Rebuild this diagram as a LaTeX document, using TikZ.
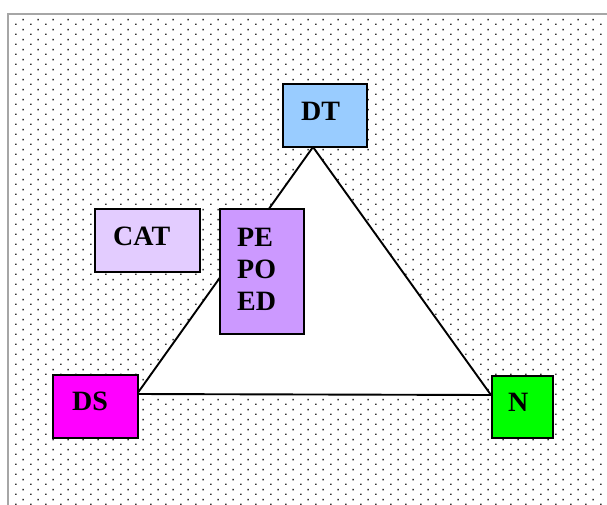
\documentclass[tikz,border=0pt]{standalone}
\usepackage{fontspec}
\setmainfont{Liberation Serif}
\usetikzlibrary{patterns}
\definecolor{dtblue}{HTML}{99CCFF}
\definecolor{catlav}{HTML}{E3CCFF}
\definecolor{pepurple}{HTML}{CC99FF}
\definecolor{dsmag}{HTML}{FF00FF}
\definecolor{ngreen}{HTML}{00FF00}
\pgfdeclarepatternformonly{pptdots}{\pgfpointorigin}{\pgfpoint{15.4pt}{10.2pt}}{\pgfpoint{15.4pt}{10.2pt}}{%
  \pgfpathrectangle{\pgfpoint{0pt}{0pt}}{\pgfpoint{1.6pt}{1.6pt}}%
  \pgfpathrectangle{\pgfpoint{7.7pt}{5.1pt}}{\pgfpoint{1.6pt}{1.6pt}}%
  \pgfusepath{fill}}
\begin{document}
\begin{tikzpicture}[x=1pt,y=-1pt,
  box/.style={draw=black,line width=2pt,anchor=north west,inner sep=0pt},
  lbl/.style={anchor=north west,inner sep=0pt,font=\fontsize{28}{32}\selectfont\bfseries,align=left},
  tri/.style={draw=black,line width=1.9pt,fill=white,line join=miter}]
\useasboundingbox (0,0) rectangle (607,504);
\clip (0,0) rectangle (607,504);
\fill[white] (0,0) rectangle (607,504);
\path[pattern=pptdots, pattern color=black!80] (8,14) rectangle (620,520);
\draw[gray!70, line width=1.5pt] (8,520) -- (8,14) -- (620,14);
% triangle
\coordinate (ta) at (313,147);
\coordinate (tl) at (137,394);
\coordinate (tr) at (491,395);
\draw[tri] (ta) -- (tl) -- (tr) -- cycle;
% boxes
\node[box, fill=dtblue, minimum width=84, minimum height=63] (dt) at (282,83) {};
\node[box, fill=catlav, minimum width=105, minimum height=63] (cat) at (94,208) {};
\node[box, fill=pepurple, minimum width=84, minimum height=125] (pe) at (219,208) {};
\node[box, fill=dsmag, minimum width=85, minimum height=63] (ds) at (52,374) {};
\node[box, fill=ngreen, minimum width=61, minimum height=62] (n) at (491,375) {};
% labels
\node[lbl] (dtl) at (301,102) {DT};
\node[lbl] (catl) at (113,227) {CAT};
\node[lbl] (pel) at (237,228) {PE\\PO\\ED};
\node[lbl] (dsl) at (72,392) {DS};
\node[lbl] (nl) at (508,393) {N};
\end{tikzpicture}
\end{document}
